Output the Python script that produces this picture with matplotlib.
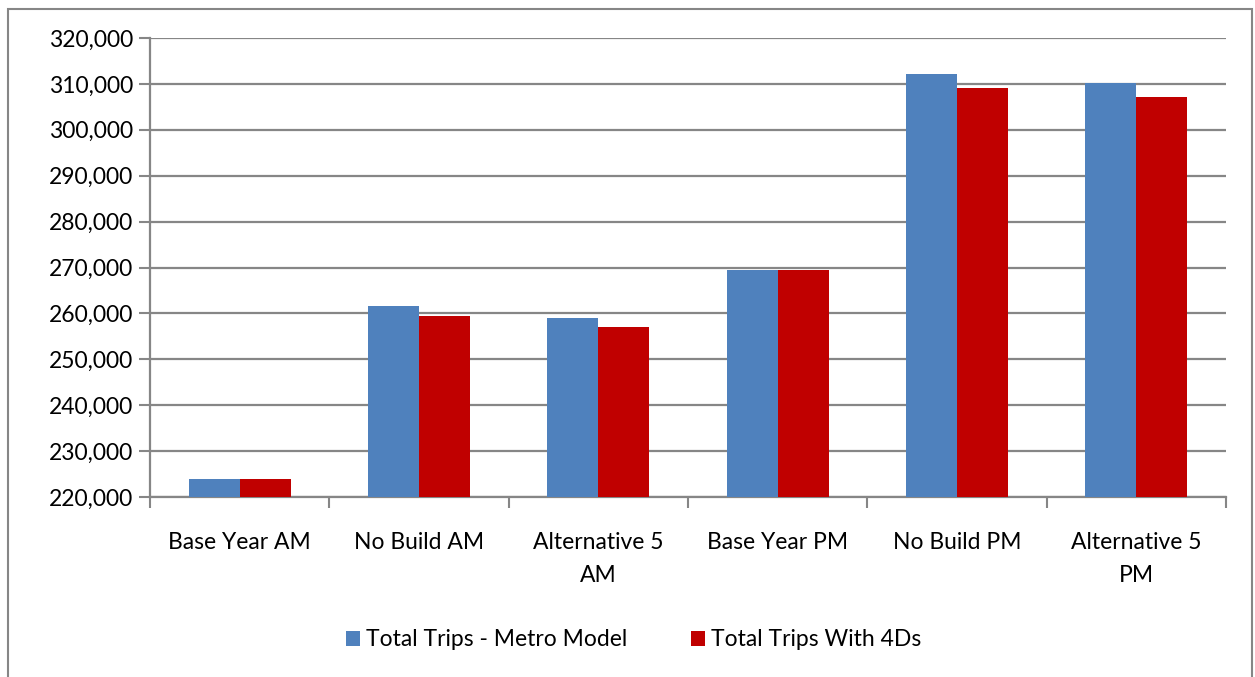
import matplotlib.pyplot as plt
import numpy as np
from matplotlib.ticker import FuncFormatter, MultipleLocator
from matplotlib.patches import Rectangle

# scenario names and trip totals
scenarios = ["Base Year AM", "No Build AM", "Alternative 5\nAM",
             "Base Year PM", "No Build PM", "Alternative 5\nPM"]
metro_model = [223900, 261600, 259100, 269400, 312100, 310200]
with_4ds = [223900, 259400, 257000, 269400, 309100, 307100]

plt.rcParams['font.family'] = ['Lato', 'DejaVu Sans']

fig = plt.figure(figsize=(12.55, 6.77), dpi=100)
ax = fig.add_axes([150/1255, 1-497/677, 1076/1255, (497-38)/677])

x = np.arange(len(scenarios))
w = 0.285
ax.bar(x - w/2, metro_model, w, color='#4F81BD', label='Total Trips - Metro Model', zorder=3)
ax.bar(x + w/2, with_4ds, w, color='#C00000', label='Total Trips With 4Ds', zorder=3)

ax.set_ylim(220000, 320000)
ax.set_xlim(-0.5, len(scenarios) - 0.5)
ax.yaxis.set_major_locator(MultipleLocator(10000))
ax.yaxis.set_major_formatter(FuncFormatter(lambda v, p: f"{int(v):,}"))
ax.grid(axis='y', color='#868686', linewidth=1.6, zorder=0)

# category ticks sit between the groups
ax.set_xticks(np.arange(len(scenarios) + 1) - 0.5)
ax.set_xticklabels([])
ax.set_xticks(x, minor=True)
ax.set_xticklabels(scenarios, minor=True, fontsize=16.5, linespacing=1.7)
ax.tick_params(axis='x', which='major', length=8, width=1.5, color='#868686')
ax.tick_params(axis='x', which='minor', length=0, pad=25)
ax.tick_params(axis='y', length=8, width=1.5, color='#868686', labelsize=16.5, pad=4)

for s in ['top', 'right']:
    ax.spines[s].set_visible(False)
for s in ['left', 'bottom']:
    ax.spines[s].set_color('#868686')
    ax.spines[s].set_linewidth(1.6)

ax.legend(loc='center', bbox_to_anchor=(0.505, (677-640)/677), bbox_transform=fig.transFigure,
          ncol=2, frameon=False, fontsize=16.5, handlelength=0.6, handleheight=0.6,
          handletextpad=0.25, columnspacing=2.8)

# chart area border
fig.patches.append(Rectangle((8/1255, -0.01), (1252-8)/1255, 1 - 9/677 + 0.01,
                             transform=fig.transFigure, fill=False,
                             edgecolor='#868686', linewidth=1.5))

fig.savefig('out.png', dpi=100)
